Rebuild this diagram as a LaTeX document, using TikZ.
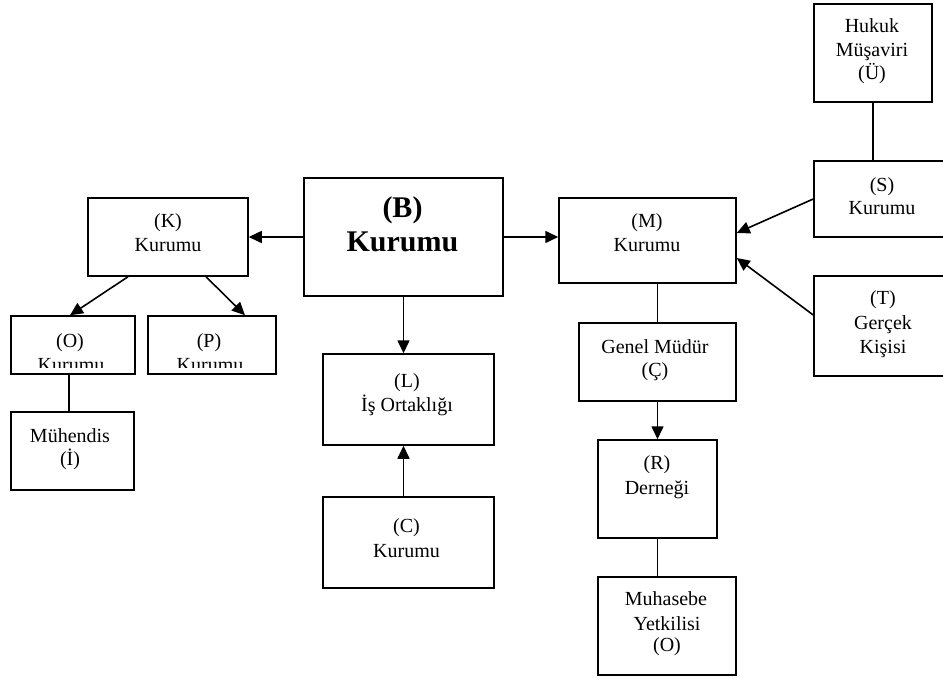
\documentclass[tikz,border=0pt]{standalone}
\usepackage{fontspec}
\setmainfont{Liberation Serif}
\usetikzlibrary{arrows.meta}
\begin{document}
\begin{tikzpicture}[x=1pt,y=-1pt,
  box/.style={draw,line width=1.5pt,inner sep=0pt,rectangle},
  arr/.style={line width=1.6pt,-{Triangle[length=13pt,width=12pt]}},
  ln/.style={line width=1.4pt},
  txt/.style={anchor=base,inner sep=0pt,font=\fontsize{20}{24}\selectfont},
  btxt/.style={anchor=base,inner sep=0pt,font=\fontsize{30}{33}\selectfont\bfseries}]
\useasboundingbox (0,0) rectangle (943,679);
\begin{scope}
\clip (0,0) rectangle (943,679);
% boxes
\node[box,minimum width=160pt,minimum height=78pt] (K) at (168,237) {};
\node[box,minimum width=124pt,minimum height=58pt] (O) at (73,345) {};
\node[box,minimum width=128pt,minimum height=58pt] (P) at (212,345) {};
\node[box,minimum width=123pt,minimum height=78pt] (Mh) at (72.5,451) {};
\node[box,minimum width=199pt,minimum height=118pt] (B) at (403.5,237) {};
\node[box,minimum width=171pt,minimum height=91pt] (L) at (408.5,399.5) {};
\node[box,minimum width=171pt,minimum height=91pt] (C) at (408.5,542.5) {};
\node[box,minimum width=177pt,minimum height=85pt] (M) at (647.5,240.5) {};
\node[box,minimum width=157pt,minimum height=78pt] (G) at (657.5,362) {};
\node[box,minimum width=119pt,minimum height=98pt] (R) at (657.5,489) {};
\node[box,minimum width=138pt,minimum height=98pt] (Mu) at (667,626) {};
\node[box,minimum width=118pt,minimum height=98pt] (U) at (873,53) {};
\node[box,minimum width=136pt,minimum height=76pt] (S) at (882,199) {};
\node[box,minimum width=136pt,minimum height=100pt] (T) at (882,326) {};
% texts
\node[txt] (tK1) at (168,228) {(K)};
\node[txt] (tK2) at (168,252) {Kurumu};
\node[txt] (tO1) at (70,347) {(O)};
\node[txt] (tP1) at (209,347) {(P)};
\begin{scope}
\clip (0,300) rectangle (300,367);
\node[txt] (tO2) at (71,371.5) {Kurumu};
\node[txt] (tP2) at (210,371.5) {Kurumu};
\end{scope}
\node[txt] (tMh1) at (70,442) {Mühendis};
\node[txt] (tMh2) at (70,465) {(İ)};
\node[btxt] (tB1) at (402.5,218) {(B)};
\node[btxt] (tB2) at (402.5,252) {Kurumu};
\node[txt] (tL1) at (407,387) {(L)};
\node[txt] (tL2) at (407,411) {İş Ortaklığı};
\node[txt] (tC1) at (406.5,532) {(C)};
\node[txt] (tC2) at (406.5,557) {Kurumu};
\node[txt] (tM1) at (647,227.5) {(M)};
\node[txt] (tM2) at (647,252) {Kurumu};
\node[txt] (tG1) at (655,353) {Genel Müdür};
\node[txt] (tG2) at (655,376.5) {(Ç)};
\node[txt] (tR1) at (657,469.5) {(R)};
\node[txt] (tR2) at (657,494) {Derneği};
\node[txt] (tMu1) at (666,605.5) {Muhasebe};
\node[txt] (tMu2) at (667,630) {Yetkilisi};
\node[txt] (tMu3) at (667,651.5) {(O)};
\node[txt] (tU1) at (872,33) {Hukuk};
\node[txt] (tU2) at (872,57) {Müşaviri};
\node[txt] (tU3) at (872,80) {(Ü)};
\node[txt] (tS1) at (882,191.5) {(S)};
\node[txt] (tS2) at (882,215) {Kurumu};
\node[txt] (tT1) at (883,304.5) {(T)};
\node[txt] (tT2) at (883,330) {Gerçek};
\node[txt] (tT3) at (883,353) {Kişisi};
% connectors
\draw[arr] (B.west) -- (K.east);
\draw[arr] (B.east) -- (B.east -| M.west);
\draw[arr] ([xshift=-40pt]K.south) -- ([xshift=-3pt]O.north);
\draw[arr] ([xshift=38pt]K.south) -- ([xshift=33pt]P.north);
\draw[ln] ([xshift=-4pt]O.south) -- ([xshift=-3.5pt]Mh.north);
\draw[arr] (B.south) -- (B.south |- L.north);
\draw[arr] ([xshift=-5pt]C.north) -- ([xshift=-5pt]L.south);
\draw[ln] (G.north |- M.south) -- (G.north);
\draw[arr] (G.south) -- (R.north);
\draw[ln] (R.south) -- (R.south |- Mu.north);
\draw[ln] (U.south) -- (U.south |- S.north);
\draw[arr] (S.west) -- ([yshift=7.5pt]M.east);
\draw[arr] ([yshift=11pt]T.west) -- ([yshift=-17.5pt]M.east);
\end{scope}
\end{tikzpicture}
\end{document}
